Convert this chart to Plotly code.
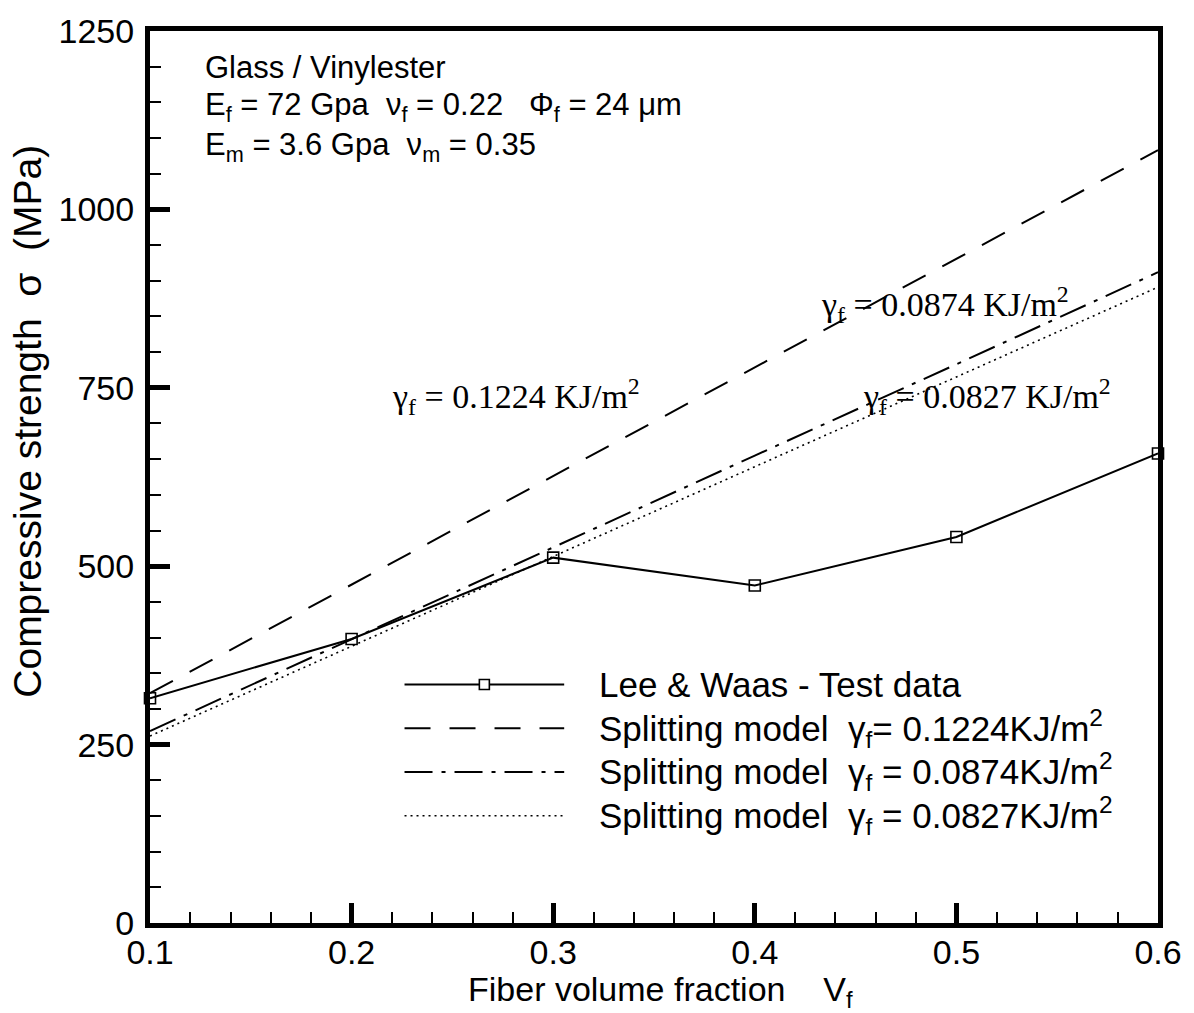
import plotly.graph_objects as go

# ---- data ----
vf = [0.1, 0.2, 0.3, 0.4, 0.5, 0.6]
test_data = [315, 398, 512, 473, 541, 658]
split_1224 = [322, 474, 626, 779, 931, 1083]
split_0874 = [269, 398, 526, 655, 783, 912]
split_0827 = [262, 388, 514, 639, 765, 891]

x_ticks = [0.1, 0.2, 0.3, 0.4, 0.5, 0.6]
y_ticks = [0, 250, 500, 750, 1000, 1250]

legend_labels = [
    "Lee & Waas - Test data",
    "Splitting model\u00a0\u00a0γ<sub>f</sub>= 0.1224KJ/m<sup>2</sup>",
    "Splitting model\u00a0\u00a0γ<sub>f</sub> = 0.0874KJ/m<sup>2</sup>",
    "Splitting model\u00a0\u00a0γ<sub>f</sub> = 0.0827KJ/m<sup>2</sup>",
]

SANS = "Liberation Sans, Arial, sans-serif"
SERIF = "Liberation Serif, Times New Roman, serif"

fig = go.Figure()
fig.add_trace(go.Scatter(x=vf, y=split_1224, mode="lines",
                         line=dict(color="black", width=2, dash="26px,19px"), showlegend=False))
fig.add_trace(go.Scatter(x=vf, y=split_0874, mode="lines",
                         line=dict(color="black", width=2, dash="28px,9px,4px,9px"), showlegend=False))
fig.add_trace(go.Scatter(x=vf, y=split_0827, mode="lines",
                         line=dict(color="black", width=1.6, dash="2px,4px"), showlegend=False))
fig.add_trace(go.Scatter(x=vf, y=test_data, mode="lines+markers",
                         line=dict(color="black", width=2),
                         marker=dict(symbol="square-open", size=11, color="black", line=dict(width=1.6)),
                         cliponaxis=False, showlegend=False))

axis_common = dict(showgrid=False, zeroline=False, showline=True, linecolor="black",
                   linewidth=5, mirror=True, ticks="inside", tickcolor="black",
                   ticklen=20, tickwidth=5,
                   tickfont=dict(family=SANS, size=34, color="black"))

fig.update_xaxes(range=[0.1, 0.6], tickvals=x_ticks, ticktext=[f"{v:.1f}" for v in x_ticks],
                 minor=dict(ticks="inside", dtick=0.02, ticklen=11, tickwidth=1.5, tickcolor="black"),
                 ticklabelstandoff=-5, **axis_common)
fig.update_yaxes(range=[0, 1250], tickvals=y_ticks, ticktext=[str(v) for v in y_ticks],
                 minor=dict(ticks="inside", dtick=50, ticklen=11, tickwidth=1.5, tickcolor="black"),
                 ticklabelstandoff=4, **axis_common)

annotations = []
# parameter text block
info_lines = [
    "Glass / Vinylester",
    "E<sub>f</sub> = 72 Gpa\u00a0\u00a0ν<sub>f</sub> = 0.22\u00a0\u00a0\u00a0Φ<sub>f</sub> = 24 μm",
    "E<sub>m</sub> = 3.6 Gpa\u00a0\u00a0ν<sub>m</sub> = 0.35",
]
for i, t in enumerate(info_lines):
    annotations.append(dict(text=t, xref="paper", yref="paper", x=0.0525, y=0.959 - i * 0.0445,
                            xanchor="left", yanchor="middle", showarrow=False,
                            font=dict(family=SANS, size=31, color="black")))

# curve labels (Times)
curve_labels = [
    ("γ<sub>f</sub> = 0.1224 KJ/m<sup>2</sup>", 0.2188, 738),
    ("γ<sub>f</sub> = 0.0874 KJ/m<sup>2</sup>", 0.4317, 867),
    ("γ<sub>f</sub> = 0.0827 KJ/m<sup>2</sup>", 0.4525, 738),
]
for t, x, y in curve_labels:
    annotations.append(dict(text=t, x=x, y=y, xref="x", yref="y", xanchor="left", yanchor="middle",
                            showarrow=False, font=dict(family=SERIF, size=34, color="black")))

# axis titles
annotations.append(dict(text="Fiber volume fraction\u00a0\u00a0\u00a0\u00a0V<sub>f</sub>", xref="paper", yref="paper",
                        x=0.506, y=-0.077, xanchor="center", yanchor="middle", showarrow=False,
                        font=dict(family=SANS, size=34, color="black")))
annotations.append(dict(text="Compressive strength\u00a0\u00a0σ\u00a0\u00a0(MPa)", xref="paper", yref="paper",
                        x=-0.121, y=0.562, xanchor="center", yanchor="middle", textangle=-90,
                        showarrow=False, font=dict(family=SANS, size=39, color="black")))

# custom legend
shapes = []
leg_x0, leg_x1, txt_x = 0.2525, 0.4109, 0.4436
leg_y = [0.2673, 0.2183, 0.1693, 0.1203]
leg_dash = ["solid", "26px,19px", "28px,9px,4px,9px", "2px,4px"]
leg_w = [2, 2, 2, 1.6]
for i in range(4):
    shapes.append(dict(type="line", xref="paper", yref="paper", x0=leg_x0, x1=leg_x1,
                       y0=leg_y[i], y1=leg_y[i], line=dict(color="black", width=leg_w[i], dash=leg_dash[i])))
    annotations.append(dict(text=legend_labels[i], xref="paper", yref="paper", x=txt_x, y=leg_y[i],
                            xanchor="left", yanchor="middle", showarrow=False,
                            font=dict(family=SANS, size=35, color="black")))
shapes.append(dict(type="rect", xref="paper", yref="paper", xsizemode="pixel", ysizemode="pixel",
                   xanchor=(leg_x0 + leg_x1) / 2, yanchor=leg_y[0], x0=-5, x1=5, y0=-5, y1=5,
                   line=dict(color="black", width=1.6), fillcolor="white"))

fig.update_layout(
    width=1194, height=1013,
    margin=dict(l=150, r=34, t=25, b=90),
    plot_bgcolor="white", paper_bgcolor="white",
    showlegend=False,
    annotations=annotations,
    shapes=shapes,
)

fig.write_html("out.html")
